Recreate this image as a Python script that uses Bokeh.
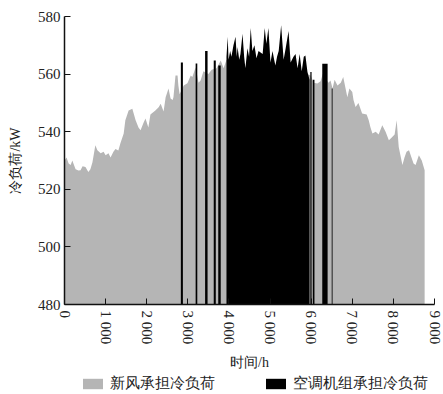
from bokeh.plotting import figure
from bokeh.models import Range1d, Legend, LegendItem, FixedTicker, ColumnDataSource
from bokeh.layouts import column
from bokeh.embed import file_html
from bokeh.resources import INLINE

# ---- data ----
fresh_hours = [0, 50, 100, 150, 190, 270, 340, 390, 440, 510, 580, 630, 680, 750, 800, 880, 950,
               1000, 1070, 1120, 1190, 1240, 1310, 1360, 1440, 1480, 1560, 1650, 1730, 1800, 1850,
               1920, 1970, 2040, 2090, 2210, 2290, 2340, 2410, 2460, 2530, 2580, 2630, 2650, 2700,
               2750, 2770, 2800, 2900, 2990, 3070, 3110, 3190, 3260, 3310, 3380, 3500, 3580, 3700,
               3800, 3870, 3940, 4300, 4700, 5100, 5500, 5900, 5990, 6060, 6150, 6230, 6280, 6420,
               6470, 6520, 6570, 6640, 6720, 6780, 6880, 6930, 7000, 7030, 7080, 7150, 7240, 7350,
               7400, 7440, 7490, 7570, 7640, 7730, 7810, 7890, 7960, 8030, 8080, 8130, 8220, 8270,
               8320, 8380, 8440, 8490, 8540, 8620, 8690, 8760]
fresh_load = [530, 531, 529, 528.4, 530, 527, 526.5, 526.6, 528, 527.7, 526, 527, 529.4, 535.3, 533.6,
              532.5, 533, 531.8, 532.5, 531, 533, 534, 533.5, 536, 539.4, 544, 547.4, 548, 544, 541.5,
              540.5, 543, 544.6, 541.5, 546, 547.4, 548.5, 549.7, 547, 552, 555, 551.5, 551, 552,
              559.5, 559.5, 556, 553, 556, 556.8, 559.5, 559, 562.4, 557, 557.8, 561, 560, 561.5, 562,
              564.7, 562, 565, 562, 563, 562, 562, 560, 559.5, 557, 556.7, 557.5, 560, 557, 557.8,
              555, 558, 556, 557, 559, 552, 555, 553.8, 551, 548.6, 550, 546.3, 546, 544, 541.6,
              539.4, 540, 539, 542.2, 540, 537, 538, 539, 544, 534.7, 528.4, 531, 533, 533.6, 531,
              529, 528.4, 531.8, 530, 526.6]

ahu_hours = [3940, 3970, 3990, 4030, 4060, 4110, 4160, 4190, 4210, 4250, 4280, 4330, 4370, 4400,
             4450, 4490, 4530, 4570, 4620, 4670, 4720, 4770, 4820, 4870, 4910, 4960, 5010, 5060,
             5100, 5130, 5170, 5210, 5270, 5330, 5380, 5450, 5500, 5570, 5620, 5670, 5720, 5770,
             5820, 5860, 5910, 5960]
ahu_load = [566, 573, 565, 568, 566, 570, 573, 566, 569.4, 565, 567, 574, 566, 562, 569, 566, 576,
            568, 570, 565.5, 568, 567.5, 567, 576, 570.5, 576, 564, 568, 565, 563, 566, 568, 577,
            565, 569, 575, 564, 566, 567, 562, 567, 561, 566, 566.5, 560.7, 558]

# short AHU operating periods (start hour, end hour, peak load)
ahu_short_start = [2830, 3190, 3420, 3630, 3740, 5980, 6040, 6270, 6500]
ahu_short_end = [2880, 3230, 3480, 3680, 3800, 6010, 6080, 6400, 6520]
ahu_short_peak = [564, 563.7, 568, 564.7, 563, 560.7, 558, 563.6, 555]

x_ticks = [0, 1000, 2000, 3000, 4000, 5000, 6000, 7000, 8000, 9000]
x_tick_labels = ["0", "1 000", "2 000", "3 000", "4 000", "5 000", "6 000", "7 000", "8 000", "9 000"]
y_ticks = [480, 500, 520, 540, 560, 580]

series_names = ["新风承担冷负荷", "空调机组承担冷负荷"]

BASE = 480
GRAY = "#b5b5b5"
FONT = "Times New Roman"

p = figure(frame_width=370, frame_height=288, x_range=Range1d(0, 9000), y_range=Range1d(480, 580),
           output_backend="svg", toolbar_location=None, title=None,
           min_border_left=64, min_border_top=16, min_border_right=9, min_border_bottom=70)
p.outline_line_color = None
p.xgrid.grid_line_color = None
p.ygrid.grid_line_color = None
p.background_fill_color = "white"

fresh_src = ColumnDataSource(dict(x=fresh_hours, y=fresh_load, b=[BASE] * len(fresh_hours)))
ahu_src = ColumnDataSource(dict(x=ahu_hours, y=ahu_load, b=[BASE] * len(ahu_hours)))
short_src = ColumnDataSource(dict(l=ahu_short_start, r=ahu_short_end, t=ahu_short_peak,
                                  b=[BASE] * len(ahu_short_start)))

p.varea(x="x", y1="b", y2="y", source=fresh_src, fill_color=GRAY)
p.varea(x="x", y1="b", y2="y", source=ahu_src, fill_color="black")
p.quad(left="l", right="r", top="t", bottom="b", source=short_src, fill_color="black", line_color=None)

for ax in (p.xaxis[0], p.yaxis[0]):
    ax.major_tick_in = 6
    ax.major_tick_out = 0
    ax.minor_tick_in = 0
    ax.minor_tick_out = 0
    ax.axis_line_color = "#111111"
    ax.major_tick_line_color = "#111111"
    ax.axis_line_width = 1.5
    ax.major_label_text_font = FONT
    ax.major_label_text_font_size = "15px"
    ax.major_label_text_color = "#222222"
    ax.axis_label_text_font = FONT
    ax.axis_label_text_font_size = "14px"
    ax.axis_label_text_font_style = "normal"
    ax.axis_label_text_color = "#222222"

p.xaxis.ticker = FixedTicker(ticks=x_ticks)
p.xaxis.major_label_overrides = {t: s for t, s in zip(x_ticks, x_tick_labels)}
p.xaxis.major_label_orientation = "vertical"
p.xaxis.major_label_standoff = 6
p.xaxis.axis_label = "时间/h"
p.xaxis.axis_label_standoff = 8

p.yaxis.ticker = FixedTicker(ticks=y_ticks)
p.yaxis.major_label_standoff = 4
p.yaxis.axis_label = "冷负荷/kW"
p.yaxis.axis_label_standoff = 12

# ---- legend strip below the chart (same series, out of this strip's view) ----
pl = figure(width=443, height=20, x_range=Range1d(0, 1), y_range=Range1d(0, 1), title=None,
            x_axis_type=None, y_axis_type=None, output_backend="svg", toolbar_location=None,
            min_border=0, min_border_left=0, min_border_right=0, min_border_top=0,
            min_border_bottom=0)
pl.outline_line_color = None
g1 = pl.varea(x="x", y1="b", y2="y", source=fresh_src, fill_color=GRAY)
g2 = pl.varea(x="x", y1="b", y2="y", source=ahu_src, fill_color="black")
legend = Legend(items=[LegendItem(label=series_names[0], renderers=[g1]),
                       LegendItem(label=series_names[1], renderers=[g2])],
                orientation="horizontal", location=(16, 1))
legend.label_text_font = FONT
legend.label_text_font_size = "15px"
legend.label_text_color = "#222222"
legend.label_height = 14
legend.glyph_width = 25
legend.glyph_height = 13
legend.label_standoff = 5
legend.spacing = 48
legend.padding = 0
legend.margin = 0
legend.border_line_color = None
legend.background_fill_alpha = 0
pl.add_layout(legend, "center")

layout = column(p, pl, spacing=0)
open("out.html", "w").write(file_html(layout, INLINE))
